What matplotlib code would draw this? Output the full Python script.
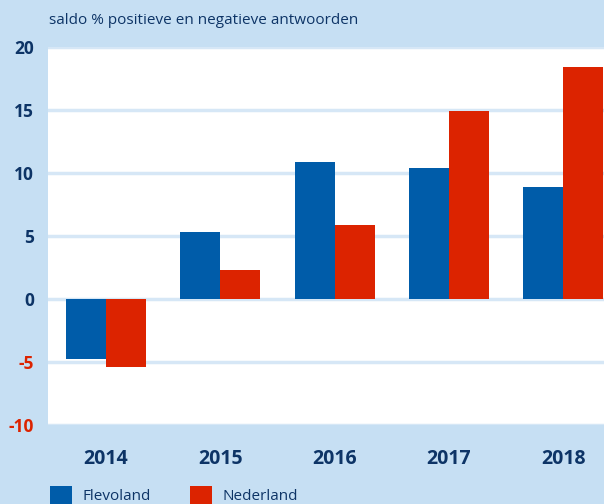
import numpy as np
import matplotlib.pyplot as plt
from matplotlib.patches import Rectangle

# Data
years = ['2014', '2015', '2016', '2017', '2018']
flevoland = [-4.8, 5.3, 10.9, 10.4, 8.9]
nederland = [-5.4, 2.3, 5.9, 14.9, 18.4]
series_names = ['Flevoland', 'Nederland']
yticks = [-10, -5, 0, 5, 10, 15, 20]

bg = '#c6dff3'
navy = '#0d3466'
blue = '#005ca9'
red = '#dc2300'
grid = '#d6e7f6'

plt.rcParams['font.family'] = ['Open Sans', 'DejaVu Sans']

fig = plt.figure(figsize=(6.04, 5.04), dpi=100, facecolor=bg)
ax = fig.add_axes([48/604, 1 - 425/504, 1 - 48/604, (425 - 47)/504])
ax.set_facecolor('white')

x = np.arange(len(years))
w = 0.35
ax.bar(x - w/2, flevoland, w, color=blue, zorder=3)
ax.bar(x + w/2, nederland, w, color=red, zorder=3)

for t in yticks:
    ax.axhline(t, color=grid, lw=2.5, zorder=1)

ax.set_xlim(-0.507, 4.357)
ax.set_ylim(-10, 20)
ax.set_yticks(yticks)
ax.set_yticklabels([str(t) for t in yticks], fontsize=12.5, fontweight='bold')
for lbl, t in zip(ax.get_yticklabels(), yticks):
    lbl.set_color(red if t < 0 else navy)
ax.set_xticks(x)
ax.set_xticklabels(years, fontsize=14, fontweight='bold', color=navy)
ax.tick_params(axis='y', length=0, pad=10)
ax.tick_params(axis='x', length=0, pad=17)
for s in ax.spines.values():
    s.set_visible(False)

fig.text(49/604, 1 - 20/504, 'saldo % positieve en negatieve antwoorden',
         fontsize=11, color=navy, va='center', ha='left')

# legend
for i, (name, c) in enumerate(zip(series_names, [blue, red])):
    x0 = (50 + i*140) / 604
    fig.patches.append(Rectangle((x0, 0), 22/604, 18/504, transform=fig.transFigure,
                                 facecolor=c, edgecolor='none'))
    fig.text(x0 + 32/604, 1 - 497/504, name, fontsize=11, color=navy,
             va='center', ha='left')

fig.savefig('out.png', dpi=100, facecolor=bg)
